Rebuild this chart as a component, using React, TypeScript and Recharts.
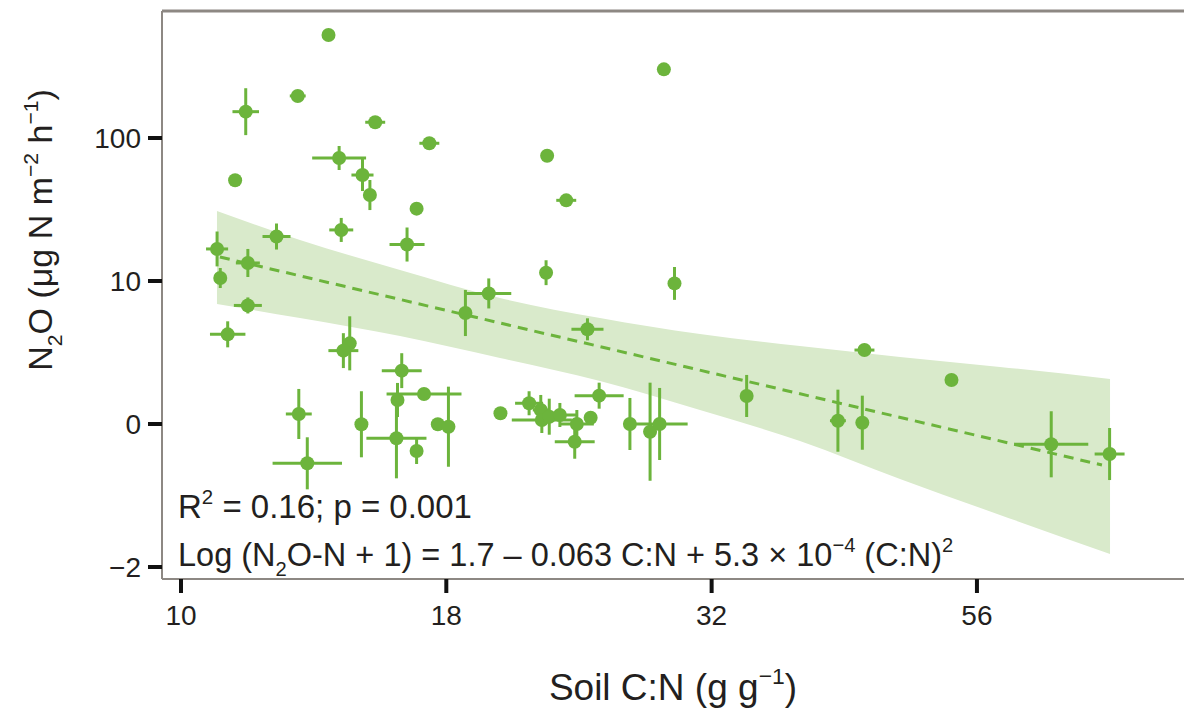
import React from 'react';
import { ComposedChart, Scatter, ErrorBar, Area, Line, XAxis, YAxis, ReferenceLine } from 'recharts';

// x values are log10(soil C:N), y values are the transformed N2O flux as plotted
const siteLogCN = [
  1.139, 1.061, 1.11, 1.183, 1.234, 1.149, 1.171, 1.178, 1.051, 1.222,
  1.151, 1.09, 1.213, 1.034, 1.063, 1.037, 1.345, 1.455, 1.363, 1.344,
  1.465, 1.29, 1.268, 1.383, 1.063, 1.044, 1.159, 1.153, 1.644, 1.208,
  1.726, 1.533, 1.229, 1.204, 1.111, 1.301, 1.328, 1.339, 1.34, 1.347,
  1.357, 1.373, 1.386, 1.394, 1.371, 1.423, 1.442, 1.451, 1.17, 1.203,
  1.222, 1.242, 1.252, 1.119, 1.619, 1.642, 1.82, 1.875,
];
const siteFlux = [
  2.72, 2.184, 2.294, 2.11, 1.963, 1.86, 1.741, 1.601, 1.704, 1.506,
  1.357, 1.311, 1.255, 1.224, 1.126, 1.021, 1.876, 2.48, 1.564, 1.058,
  0.983, 0.913, 0.776, 0.662, 0.829, 0.627, 0.564, 0.513, 0.517, 0.373,
  0.308, 0.196, 0.21, 0.168, 0.07, 0.075, 0.145, 0.098, 0.028, 0.051,
  0.063, 0.0, 0.044, 0.198, -0.124, 0.0, -0.054, 0.0, -0.002, -0.1,
  -0.189, -0.002, -0.019, -0.275, 0.023, 0.009, -0.142, -0.21,
];
const siteCNErr = [
  0, 0.0125, 0.0075, 0.0094, 0.0094, 0.0254, 0.0104, 0.003, 0, 0,
  0.0113, 0.0132, 0.0165, 0.0104, 0.0113, 0, 0, 0, 0.0094, 0,
  0, 0.0212, 0.005, 0.0151, 0.0132, 0.0167, 0, 0.0141, 0.0094, 0.0188,
  0, 0, 0.0353, 0.004, 0.0122, 0, 0.0132, 0.0075, 0.0283, 0,
  0.017, 0.016, 0, 0.0231, 0.0188, 0.0057, 0, 0.0264, 0, 0.0283,
  0, 0.004, 0, 0.0327, 0.0075, 0, 0.0349, 0.0141,
];
const siteFluxErr = [
  0, 0.164, 0.02, 0.035, 0.042, 0.084, 0.112, 0.105, 0, 0,
  0.084, 0.091, 0.119, 0.122, 0.098, 0.07, 0, 0, 0.02, 0.087,
  0.115, 0.105, 0.161, 0.077, 0.056, 0.091, 0.189, 0.122, 0.028, 0.122,
  0, 0.147, 0.028, 0.119, 0.175, 0, 0.084, 0.105, 0.091, 0.126,
  0.084, 0.098, 0, 0.091, 0.119, 0.182, 0.343, 0.252, 0.231, 0.28,
  0.091, 0.028, 0.28, 0.182, 0.217, 0.189, 0.231, 0.182,
];

// 95% confidence band and fitted line
const bandLogCN = [1.0339, 1.1121, 1.2064, 1.3006, 1.3948, 1.489, 1.5832, 1.6775, 1.7717, 1.8754];
const bandLow = [0.839, 0.741, 0.615, 0.462, 0.301, 0.098, -0.119, -0.385, -0.636, -0.909];
const bandHigh = [1.49, 1.287, 1.077, 0.881, 0.741, 0.629, 0.545, 0.469, 0.399, 0.315];
const fitLogCN = [1.0367, 1.8678];
const fitFlux = [1.168, -0.287];

const xTicks = [1, 1.25, 1.5, 1.75];
const xTickLabels = ['10', '18', '32', '56'];
const yTicks = [-1, 0, 1, 2];
const yTickLabels = ['\u22122', '0', '10', '100'];

const X_DOMAIN = [0.9821, 1.9451];
const Y_DOMAIN = [-1.084, 2.888];

const GREEN = '#6cb43c';
const BAND = '#d9eacb';
const FRAME = '#8d8883';
const FONT = '"Liberation Sans", Arial, Helvetica, sans-serif';

const points = siteLogCN.map((x, i) => ({
  x,
  y: siteFlux[i],
  ex: siteCNErr[i],
  ey: siteFluxErr[i],
}));
const band = bandLogCN.map((x, i) => ({ x, range: [bandLow[i], bandHigh[i]] }));
const fit = fitLogCN.map((x, i) => ({ x, fit: fitFlux[i] }));

type Seg = { t: string; s?: 'sub' | 'sup' };

function RichText({ segs, x, y, size, anchor = 'start', rotate }: {
  segs: Seg[]; x: number; y: number; size: number; anchor?: string; rotate?: number;
}) {
  let shift = 0;
  const small = size * 0.62;
  return (
    <text
      x={x}
      y={y}
      fontSize={size}
      fontFamily={FONT}
      fill="#231f20"
      textAnchor={anchor}
      transform={rotate ? `rotate(${rotate}, ${x}, ${y})` : undefined}
    >
      {segs.map((s, i) => {
        const target = s.s === 'sub' ? size * 0.3 : s.s === 'sup' ? -size * 0.42 : 0;
        const dy = target - shift;
        shift = target;
        return (
          <tspan key={i} dy={dy} fontSize={s.s ? small : size}>
            {s.t}
          </tspan>
        );
      })}
    </text>
  );
}

const yTitle: Seg[] = [
  { t: 'N' }, { t: '2', s: 'sub' }, { t: 'O (\u03bcg N m' }, { t: '\u22122', s: 'sup' },
  { t: ' h' }, { t: '\u22121', s: 'sup' }, { t: ')' },
];
const xTitle: Seg[] = [{ t: 'Soil C:N (g g' }, { t: '\u22121', s: 'sup' }, { t: ')' }];
const statText: Seg[] = [{ t: 'R' }, { t: '2', s: 'sup' }, { t: ' = 0.16; p = 0.001' }];
const eqText: Seg[] = [
  { t: 'Log (N' }, { t: '2', s: 'sub' }, { t: 'O-N + 1) = 1.7 \u2013 0.063 C:N + 5.3 \u00d7 10' },
  { t: '\u22124', s: 'sup' }, { t: ' (C:N)' }, { t: '2', s: 'sup' },
];

const dot = (p: any) => <circle cx={p.cx} cy={p.cy} r={7} fill={GREEN} />;

export default function App() {
  return (
    <div style={{ position: 'absolute', left: 0, top: 0, background: '#fff' }}>
      <ComposedChart
        width={1184}
        height={716}
        margin={{ top: 11, right: 0, bottom: 77, left: 0 }}
      >
        <XAxis
          dataKey="x"
          type="number"
          domain={X_DOMAIN}
          allowDataOverflow
          ticks={xTicks}
          tickFormatter={(v: number) => xTickLabels[xTicks.indexOf(v)]}
          height={60}
          tickSize={14}
          tickMargin={12}
          axisLine={{ stroke: FRAME, strokeWidth: 2 }}
          tickLine={{ stroke: '#111', strokeWidth: 4 }}
          tick={{ fill: '#231f20', fontSize: 28, fontFamily: FONT }}
        />
        <YAxis
          type="number"
          domain={Y_DOMAIN}
          allowDataOverflow
          ticks={yTicks}
          tickFormatter={(v: number) => yTickLabels[yTicks.indexOf(v)]}
          width={162}
          tickSize={14}
          tickMargin={7}
          axisLine={{ stroke: FRAME, strokeWidth: 2 }}
          tickLine={{ stroke: '#111', strokeWidth: 4 }}
          tick={{ fill: '#231f20', fontSize: 28, fontFamily: FONT }}
        />
        <ReferenceLine y={Y_DOMAIN[1]} stroke={FRAME} strokeWidth={3} />
        <Area
          data={band}
          dataKey="range"
          type="monotone"
          stroke="none"
          fill={BAND}
          fillOpacity={1}
          isAnimationActive={false}
        />
        <Line
          data={fit}
          dataKey="fit"
          type="linear"
          stroke={GREEN}
          strokeWidth={3}
          strokeDasharray="10 7"
          dot={false}
          activeDot={false}
          isAnimationActive={false}
        />
        <Scatter data={points} dataKey="y" shape={dot} isAnimationActive={false}>
          <ErrorBar dataKey="ex" direction="x" width={0} stroke={GREEN} strokeWidth={3} />
          <ErrorBar dataKey="ey" direction="y" width={0} stroke={GREEN} strokeWidth={3} />
        </Scatter>
        <g>
          <RichText segs={statText} x={178} y={518} size={33} />
          <RichText segs={eqText} x={178} y={566} size={32.5} />
          <RichText segs={yTitle} x={52} y={230} size={34} anchor="middle" rotate={-90} />
          <RichText segs={xTitle} x={673} y={700} size={37} anchor="middle" />
        </g>
      </ComposedChart>
    </div>
  );
}
